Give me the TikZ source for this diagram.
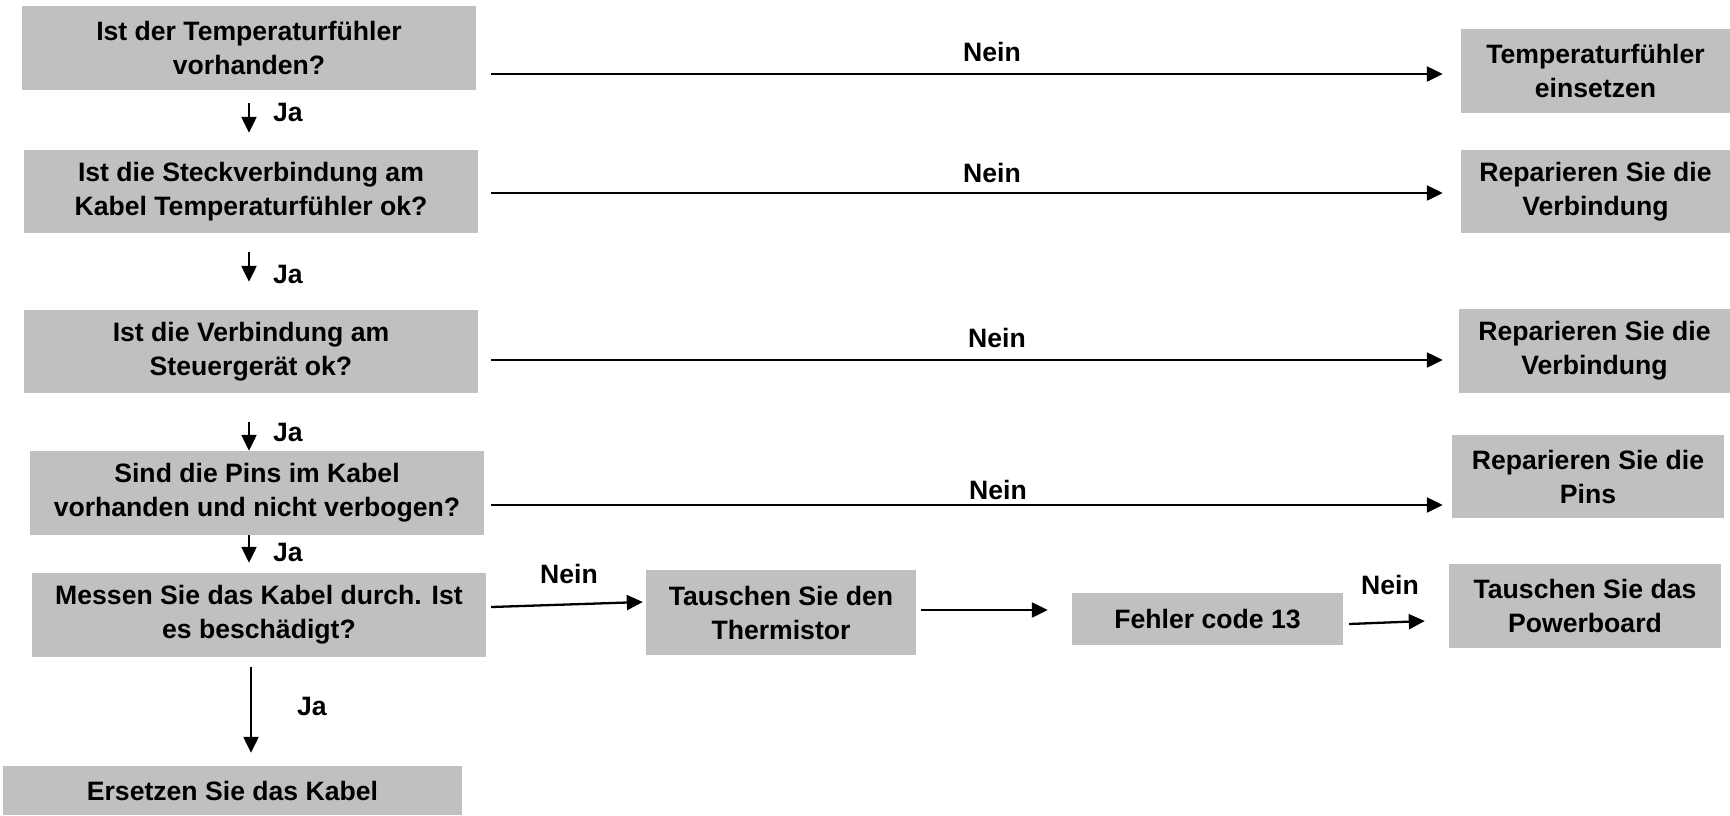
\documentclass[tikz,border=0pt]{standalone}
\usepackage{fontspec}
\setmainfont{Liberation Sans}
\usetikzlibrary{arrows.meta}
\definecolor{boxgray}{RGB}{192,192,192}
\begin{document}
\begin{tikzpicture}[x=1pt,y=-1pt,
  box/.style={fill=boxgray, draw=none, align=center, inner sep=0pt,
    font=\bfseries\fontsize{26.6}{34}\selectfont},
  lbl/.style={font=\bfseries\fontsize{26.6}{30}\selectfont, inner sep=0pt},
  arr/.style={-{Triangle[length=16pt,width=15pt]}, line width=2.3pt}]
\useasboundingbox (0,0) rectangle (1730,815);
% left column
\node[box, minimum width=454pt, minimum height=84pt] (b1) at (249,48) {Ist der Temperaturfühler\\vorhanden?};
\node[box, minimum width=454pt, minimum height=83pt] (b2) at (251,191.5) {Ist die Steckverbindung am\\Kabel Temperaturfühler ok?};
\node[box, minimum width=454pt, minimum height=83pt] (b3) at (251,351.5) {Ist die Verbindung am\\Steuergerät ok?};
\node[box, minimum width=454pt, minimum height=84pt] (b4) at (257,493) {Sind die Pins im Kabel\\vorhanden und nicht verbogen?};
\node[box, minimum width=454pt, minimum height=84pt] (b5) at (259,615) {Messen Sie das Kabel durch. Ist\\es beschädigt?};
\node[box, minimum width=459pt, minimum height=49pt] (b6) at (232.5,790.5) {Ersetzen Sie das Kabel};
% right column
\node[box, minimum width=269pt, minimum height=84pt] (r1) at (1595.5,71) {Temperaturfühler\\einsetzen};
\node[box, minimum width=269pt, minimum height=83pt] (r2) at (1595.5,191.5) {Reparieren Sie die\\Verbindung};
\node[box, minimum width=271pt, minimum height=84pt] (r3) at (1594.5,351) {Reparieren Sie die\\Verbindung};
\node[box, minimum width=272pt, minimum height=83pt] (r4) at (1588,476.5) {Reparieren Sie die\\Pins};
\node[box, minimum width=272pt, minimum height=84pt] (r5) at (1585,606) {Tauschen Sie das\\Powerboard};
% bottom row
\node[box, minimum width=270pt, minimum height=85pt] (th) at (781,612.5) {Tauschen Sie den\\Thermistor};
\node[box, minimum width=271pt, minimum height=52pt] (fe) at (1207.5,619) {Fehler code 13};
% Nein connectors
\draw[arr] ([shift={(15,26)}]b1.east) -- ([shift={(-18,3)}]r1.west);
\draw[arr] ([shift={(13,1.5)}]b2.east) -- ([shift={(-18,1.5)}]r2.west);
\draw[arr] ([shift={(13,8.5)}]b3.east) -- ([shift={(-16,9)}]r3.west);
\draw[arr] ([shift={(7,12)}]b4.east) -- ([shift={(-9,28.5)}]r4.west);
\node[lbl] (n1) at (992,52) {Nein};
\node[lbl] (n2) at (992,173) {Nein};
\node[lbl] (n3) at (997,338) {Nein};
\node[lbl] (n4) at (998,490) {Nein};
% Ja connectors
\draw[arr] ([shift={(0,13)}]b1.south) -- ([shift={(-2,-17)}]b2.north);
\draw[arr] ([shift={(-2,19)}]b2.south) -- ([shift={(-2,-28)}]b3.north);
\draw[arr] ([shift={(-2,29)}]b3.south) -- ([shift={(-8,0)}]b4.north);
\draw[arr] ([shift={(-8,0)}]b4.south) -- ([shift={(-10,-10)}]b5.north);
\draw[arr] ([shift={(-8,10)}]b5.south) -- ([shift={(18.5,-13)}]b6.north);
\node[lbl] (j1) at (288,112) {Ja};
\node[lbl] (j2) at (288,274) {Ja};
\node[lbl] (j3) at (288,432) {Ja};
\node[lbl] (j4) at (288,552) {Ja};
\node[lbl] (j5) at (312,706) {Ja};
% bottom row connectors
\draw[arr] ([shift={(5,-8)}]b5.east) -- ([shift={(-3,-10.5)}]th.west);
\draw[arr] ([shift={(5,-2.5)}]th.east) -- ([shift={(-24,-9)}]fe.west);
\draw[arr] ([shift={(6,5)}]fe.east) -- ([shift={(-24,15)}]r5.west);
\node[lbl] (n5) at (569,574) {Nein};
\node[lbl] (n6) at (1390,585) {Nein};
\end{tikzpicture}
\end{document}
